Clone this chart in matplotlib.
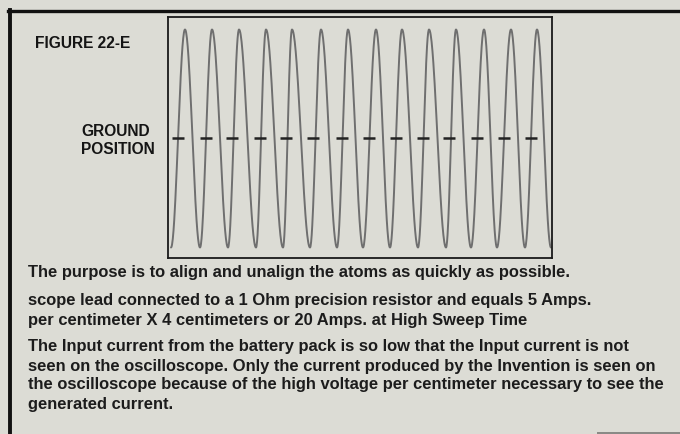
import numpy as np
import matplotlib
matplotlib.use("Agg")
import matplotlib.pyplot as plt
from matplotlib.lines import Line2D
from matplotlib.patches import Rectangle

plt.rcParams["font.family"] = ["Liberation Sans", "DejaVu Sans"]

PAPER = "#dcdcd5"
TRACE = "#6f6f6f"

# scope trace: times (screen units) of the crests and troughs, and their levels
PEAK_T = [17, 44, 71, 98, 124, 153, 180, 208, 234, 261, 288, 316, 343, 369]
TROUGH_T = [3, 32, 60, 88, 115, 142, 169, 195, 222, 250, 278, 303, 329, 357, 383]
PEAK_V = 108
TROUGH_V = -110
# ground reference marks, one per rising crossing
GROUND_T = [10, 38, 64, 92, 118, 145, 174, 201, 228, 255, 281, 309, 336, 363]
GROUND_V = 0

CAPTION = "The purpose is to align and unalign the atoms as quickly as possible."
NOTE = ["scope lead connected to a 1 Ohm precision resistor and equals 5 Amps.",
        "per centimeter X 4 centimeters or 20 Amps. at High Sweep Time"]
BODY = ["The Input current from the battery pack is so low that the Input current is not",
        "seen on the oscilloscope. Only the current produced by the Invention is seen on",
        "the oscilloscope because of the high voltage per centimeter necessary to see the",
        "generated current."]


def trace(pt, tt, pv, tv, n=40):
    # join successive extrema with half-cosine arcs
    ext = sorted([(t, pv) for t in pt] + [(t, tv) for t in tt])
    xs, ys = [], []
    for (x0, y0), (x1, y1) in zip(ext[:-1], ext[1:]):
        s = np.linspace(0, 1, n)
        xs.append(x0 + (x1 - x0) * s)
        ys.append(y0 + (y1 - y0) * (1 - np.cos(np.pi * s)) / 2)
    return np.concatenate(xs), np.concatenate(ys)


W, H = 680, 434
fig = plt.figure(figsize=(W / 100, H / 100), dpi=100, facecolor=PAPER)

# page frame: heavy rule along the top and left edge
fig.add_artist(Line2D([8 / W, 1], [1 - 11 / H, 1 - 11 / H], color="#111", lw=2.4))
fig.add_artist(Line2D([9.5 / W, 9.5 / W], [0, 1 - 10 / H], color="#111", lw=2.8))
fig.add_artist(Rectangle((597 / W, 0), 83 / W, 2.2 / H, transform=fig.transFigure,
                         color="#8a8a86", lw=0))

# oscilloscope screen
ax = fig.add_axes([168 / W, 1 - 258 / H, 384 / W, 241 / H])
ax.set_facecolor(PAPER)
x, y = trace(PEAK_T, TROUGH_T, PEAK_V, TROUGH_V)
ax.plot(x, y, color=TRACE, lw=1.4, solid_capstyle="round")
ax.plot(GROUND_T, [GROUND_V] * len(GROUND_T), ls="none", marker="_",
        ms=8.5, mew=1.8, color="#222")
ax.set_xlim(0, 384)
ax.set_ylim(-120.5, 120.5)
ax.set_xticks([]); ax.set_yticks([])
for s in ax.spines.values():
    s.set_color("#1a1a1a"); s.set_linewidth(1.3)

hkw = dict(fontsize=11.2, fontweight="bold", va="center", ha="left", color="#151515")
fig.text(35 / W, 1 - 43 / H, "FIGURE 22-E", **hkw)
fig.text(81 / W, 1 - 132 / H, "GROUND", **hkw)
fig.text(81 / W, 1 - 150 / H, "POSITION", **hkw)

tkw = dict(fontsize=11.9, fontweight="bold", va="center", ha="left", color="#1c1c1c")
fig.text(28 / W, 1 - 273 / H, CAPTION, **tkw)
for i, line in enumerate(NOTE):
    fig.text(28 / W, 1 - (301 + 19 * i) / H, line, **tkw)
for i, line in enumerate(BODY):
    fig.text(28 / W, 1 - (347 + 19 * i) / H, line, **tkw)

fig.savefig("out.png", dpi=100, facecolor=PAPER)
